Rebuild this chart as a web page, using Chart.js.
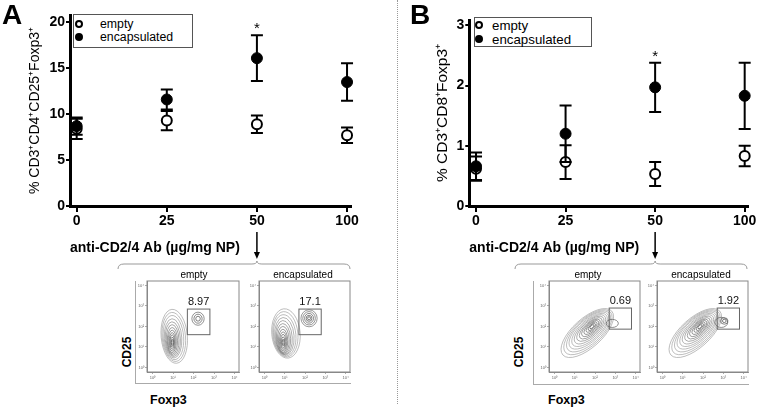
<!DOCTYPE html>
<html>
<head>
<meta charset="utf-8">
<script src="https://cdn.jsdelivr.net/npm/chart.js@4.4.1/dist/chart.umd.min.js"></script>
<style>
  body { margin: 0; background: #fff; font-family: "Liberation Sans", Arial, sans-serif; }
  #fig { position: relative; width: 760px; height: 408px; overflow: hidden; background: #fff; }
  canvas { position: absolute; }
  .t { position: absolute; white-space: nowrap; line-height: 1; color: #000; }
  .c { transform: translate(-50%, -50%); }
  .rot { transform: translate(-50%, -50%) rotate(-90deg); }
  .legend { position: absolute; border: 1px solid #555; box-sizing: border-box; background: #fff; }
  .lrow { display: flex; align-items: center; white-space: nowrap; }
  .mk { display: inline-block; box-sizing: border-box; width: 8px; height: 8px; border-radius: 50%; border: 2px solid #000; }
  #legA { left: 73px; top: 14px; width: 120px; height: 34px; padding: 2px 0 0 1px; font-size: 12.3px; }
  #legA .lrow { height: 13px; }
  #legA .mk { margin-right: 17px; }
  #legB { left: 474px; top: 17px; width: 118px; height: 30px; padding: 0; font-size: 13.3px; }
  #legB .lrow { height: 14px; }
  #legB .mk { margin-right: 9px; }
  .sep { position: absolute; left: 397px; top: 0; height: 404px; border-left: 1px dotted #999; }
  .frame { position: absolute; border-left: 1px solid #aaa; border-bottom: 1px solid #aaa; }
</style>
</head>
<body>
<div id="fig">
  <canvas id="chartA" width="380" height="272" style="left:0;top:0"></canvas>
  <canvas id="chartB" width="362" height="272" style="left:398px;top:0"></canvas>
  <div class="sep"></div>

  <div class="t" style="left:2px;top:1px;font-size:28px;font-weight:bold">A</div>
  <div class="t" style="left:410px;top:1px;font-size:28px;font-weight:bold">B</div>

  <div class="legend" id="legA"></div>
  <div class="legend" id="legB"></div>

  <div class="frame" style="left:135px;top:281px;width:215px;height:102px"></div>
  <div class="frame" style="left:533px;top:281px;width:215px;height:103px"></div>

  <canvas id="flowA1" width="104" height="106" style="left:137px;top:277px"></canvas>
  <canvas id="flowA2" width="103" height="106" style="left:249px;top:277px"></canvas>
  <canvas id="flowB1" width="103" height="106" style="left:539px;top:277px"></canvas>
  <canvas id="flowB2" width="103" height="106" style="left:647px;top:277px"></canvas>

  <div class="t c" style="left:194px;top:275px;font-size:10px">empty</div>
  <div class="t c" style="left:303px;top:275px;font-size:10px">encapsulated</div>
  <div class="t c" style="left:588px;top:275px;font-size:10px">empty</div>
  <div class="t c" style="left:701px;top:275px;font-size:10px">encapsulated</div>

  <div class="t rot" style="left:127px;top:352px;font-size:12px;font-weight:bold">CD25</div>
  <div class="t rot" style="left:519px;top:352px;font-size:12px;font-weight:bold">CD25</div>
  <div class="t" style="left:150px;top:394px;font-size:12.5px;font-weight:bold">Foxp3</div>
  <div class="t" style="left:548px;top:394px;font-size:12.5px;font-weight:bold">Foxp3</div>
</div>

<script>
// dose groups on the x axis
const doseLabels = ['0', '25', '50', '100'];
const seriesLabels = ['empty', 'encapsulated'];
const yTicksA = [0, 5, 10, 15, 20];
const yTicksB = [0, 1, 2, 3];

// panel A: % CD3+CD4+CD25+Foxp3+  (mean, sem)
const emptyA = [8.4, 9.3, 8.9, 7.7];
const emptyErrA = [1.1, 1.05, 0.95, 0.85];
const encA = [8.7, 11.6, 16.1, 13.5];
const encErrA = [0.95, 1.1, 2.5, 2.05];

// panel B: % CD3+CD8+Foxp3+
const emptyB = [0.62, 0.73, 0.53, 0.83];
const emptyErrB = [0.2, 0.28, 0.2, 0.17];
const encB = [0.66, 1.2, 1.97, 1.83];
const encErrB = [0.23, 0.47, 0.41, 0.55];

const sigIdx = [2];     // "*" groups
const flowDose = 2;     // dose shown in the flow plots

// flow plots: decades, gates (log10 units) and gate percentages
const flowDecades = [1, 10, 100, 1000, 10000];
const gateA = { x: [1.7, 2.8], y: [1.6, 2.85] };
const gateB = { x: [2.7, 3.8], y: [1.87, 2.9] };
const pctA = ['8.97', '17.1'];
const pctB = ['0.69', '1.92'];

// contour levels: [log x, log y, half-width, half-height, tilt deg]
const contA1 = [
  [1.06, 1.52, 0.64, 1.32, 5], [1.04, 1.49, 0.57, 1.2, 5], [1.02, 1.46, 0.5, 1.08, 4],
  [1.0, 1.42, 0.43, 0.96, 3], [0.99, 1.38, 0.37, 0.85, 3], [0.98, 1.34, 0.31, 0.75, 2],
  [0.97, 1.3, 0.25, 0.65, 1], [0.96, 1.27, 0.2, 0.55, 0], [0.96, 1.25, 0.15, 0.45, 0],
  [0.96, 1.24, 0.11, 0.35, 0], [0.96, 1.23, 0.07, 0.25, 0], [0.96, 1.22, 0.04, 0.15, 0],
  [2.22, 2.38, 0.3, 0.32, 0], [2.22, 2.38, 0.2, 0.22, 0], [2.22, 2.38, 0.11, 0.12, 0]
];
const contA2 = [
  [1.06, 1.66, 0.7, 1.22, 5], [1.03, 1.62, 0.62, 1.12, 5], [1.0, 1.57, 0.55, 1.02, 5],
  [0.98, 1.52, 0.48, 0.93, 4], [0.96, 1.46, 0.41, 0.84, 4], [0.94, 1.4, 0.35, 0.75, 3],
  [0.93, 1.35, 0.29, 0.66, 2], [0.92, 1.3, 0.23, 0.57, 1], [0.92, 1.27, 0.18, 0.47, 0],
  [0.92, 1.25, 0.13, 0.37, 0], [0.92, 1.23, 0.08, 0.27, 0], [0.92, 1.22, 0.04, 0.16, 0],
  [2.2, 2.4, 0.4, 0.42, 0], [2.2, 2.4, 0.31, 0.33, 0], [2.2, 2.4, 0.22, 0.24, 0],
  [2.2, 2.4, 0.14, 0.15, 0], [2.2, 2.4, 0.07, 0.08, 0]
];
const contB1 = [
  [1.62, 1.68, 1.62, 0.72, 42], [1.65, 1.72, 1.49, 0.66, 42], [1.68, 1.76, 1.36, 0.6, 42],
  [1.7, 1.8, 1.23, 0.54, 42], [1.73, 1.83, 1.1, 0.48, 42], [1.75, 1.86, 0.97, 0.42, 42],
  [1.77, 1.89, 0.84, 0.36, 42], [1.79, 1.91, 0.71, 0.3, 42], [1.8, 1.93, 0.58, 0.25, 42],
  [1.82, 1.95, 0.46, 0.2, 42], [1.83, 1.97, 0.34, 0.15, 42], [1.84, 1.98, 0.23, 0.1, 42],
  [1.85, 1.99, 0.13, 0.06, 42], [2.85, 2.15, 0.3, 0.2, 0]
];
const contB2 = [
  [1.62, 1.68, 1.62, 0.72, 42], [1.65, 1.72, 1.49, 0.66, 42], [1.68, 1.76, 1.36, 0.6, 42],
  [1.7, 1.8, 1.23, 0.54, 42], [1.73, 1.83, 1.1, 0.48, 42], [1.75, 1.86, 0.97, 0.42, 42],
  [1.77, 1.89, 0.84, 0.36, 42], [1.79, 1.91, 0.71, 0.3, 42], [1.8, 1.93, 0.58, 0.25, 42],
  [1.82, 1.95, 0.46, 0.2, 42], [1.83, 1.97, 0.34, 0.15, 42], [1.84, 1.98, 0.23, 0.1, 42],
  [1.85, 1.99, 0.13, 0.06, 42], [2.9, 2.2, 0.32, 0.25, 0],
  [3.05, 2.27, 0.18, 0.16, 0], [3.05, 2.27, 0.09, 0.08, 0]
];

const FONT = '"Liberation Sans", Arial, sans-serif';
const SUP = ['\u2070', '\u00b9', '\u00b2', '\u00b3', '\u2074'];

const errorBars = {
  id: 'errorBars',
  beforeDatasetDraw(chart, args) {
    const ds = chart.data.datasets[args.index];
    const y = chart.scales.y, ctx = chart.ctx;
    ctx.save();
    ctx.strokeStyle = '#000';
    ctx.lineWidth = 2;
    args.meta.data.forEach((pt, i) => {
      const v = ds.data[i].y, e = ds.errors[i];
      const top = y.getPixelForValue(v + e), bot = y.getPixelForValue(v - e);
      ctx.beginPath();
      ctx.moveTo(pt.x, top); ctx.lineTo(pt.x, bot);
      ctx.moveTo(pt.x - 6, top); ctx.lineTo(pt.x + 6, top);
      ctx.moveTo(pt.x - 6, bot); ctx.lineTo(pt.x + 6, bot);
      ctx.stroke();
    });
    ctx.restore();
  }
};

const annot = {
  id: 'annot',
  afterDraw(chart, args, opts) {
    const ctx = chart.ctx, x = chart.scales.x, y = chart.scales.y;
    const ds = chart.data.datasets;
    ctx.save();
    ctx.fillStyle = '#000';
    ctx.font = '15px ' + FONT;
    ctx.textAlign = 'center';
    ctx.textBaseline = 'alphabetic';
    sigIdx.forEach(i => {
      const hi = Math.max(...ds.map(d => d.data[i].y + d.errors[i]));
      ctx.fillText('*', x.getPixelForValue(i), y.getPixelForValue(hi) - 2);
    });
    // arrow from the dose shown below
    const ax = x.getPixelForValue(flowDose);
    ctx.strokeStyle = '#000';
    ctx.lineWidth = 1.5;
    ctx.beginPath(); ctx.moveTo(ax, 232); ctx.lineTo(ax, 253); ctx.stroke();
    ctx.beginPath(); ctx.moveTo(ax - 3, 252); ctx.lineTo(ax + 3, 252); ctx.lineTo(ax, 259); ctx.closePath(); ctx.fill();
    // brace over the flow plots
    const L = opts.braceL, R = opts.braceR, yb = 264;
    ctx.strokeStyle = '#999';
    ctx.lineWidth = 1;
    ctx.beginPath();
    ctx.moveTo(L, yb + 5);
    ctx.quadraticCurveTo(L, yb, L + 6, yb);
    ctx.lineTo(ax - 5, yb);
    ctx.quadraticCurveTo(ax, yb, ax, yb - 3);
    ctx.quadraticCurveTo(ax, yb, ax + 5, yb);
    ctx.lineTo(R - 6, yb);
    ctx.quadraticCurveTo(R, yb, R, yb + 5);
    ctx.stroke();
    ctx.restore();
  }
};

function mainChart(id, c) {
  const H = 272;
  return new Chart(document.getElementById(id), {
    type: 'scatter',
    data: {
      datasets: [
        { label: seriesLabels[0], data: c.empty.map((v, i) => ({ x: i, y: v })), errors: c.emptyErr, clip: false,
          pointRadius: 5, pointBackgroundColor: '#fff', pointBorderColor: '#000', pointBorderWidth: 2, order: 2 },
        { label: seriesLabels[1], data: c.enc.map((v, i) => ({ x: i, y: v })), errors: c.encErr, clip: false,
          pointRadius: 5.5, pointBackgroundColor: '#000', pointBorderColor: '#000', pointBorderWidth: 1, order: 1 }
      ]
    },
    options: {
      animation: false, responsive: false, events: [],
      layout: { padding: { top: c.top, right: c.right, left: 0, bottom: 0 } },
      plugins: { legend: { display: false }, tooltip: { enabled: false }, annot: { braceL: c.braceL, braceR: c.braceR } },
      scales: {
        x: {
          type: 'linear', min: c.xMin, max: c.xMax,
          afterBuildTicks: s => { s.ticks = doseLabels.map((_, i) => ({ value: i })); },
          afterFit: s => { s.height = H - 206; },
          ticks: { callback: v => doseLabels[v], color: '#000', padding: 1, maxRotation: 0, autoSkip: false,
                   font: { family: FONT, size: 14, weight: 'bold' } },
          grid: { drawOnChartArea: false, tickLength: 6, color: '#000', lineWidth: 2 },
          border: { color: '#000', width: 3 },
          title: { display: true, text: 'anti-CD2/4 Ab (\u00b5g/mg NP)', align: 'start', color: '#000',
                   font: { family: FONT, size: 14, weight: 'bold' }, padding: { top: 0, bottom: 15.6 } }
        },
        y: {
          min: 0, max: c.yMax,
          afterBuildTicks: s => { s.ticks = c.yTicks.map(v => ({ value: v })); },
          afterFit: s => { s.width = c.yWidth; },
          ticks: { color: '#000', padding: 1, font: { family: FONT, size: 14, weight: 'bold' } },
          grid: { drawOnChartArea: false, tickLength: 4, color: '#000', lineWidth: 2 },
          border: { color: '#000', width: 3 },
          title: { display: true, text: c.yTitle, color: '#000',
                   font: { family: FONT, size: c.yTitleSize }, padding: { top: c.yTitlePad, bottom: 0 } }
        }
      }
    },
    plugins: [errorBars, annot]
  });
}

mainChart('chartA', {
  empty: emptyA, emptyErr: emptyErrA, enc: encA, encErr: encErrA,
  yTicks: yTicksA, yMax: 20.8, top: 15, right: 29, yWidth: 70, xMin: -0.074, xMax: 3.044,
  yTitle: '% CD3\u207aCD4\u207aCD25\u207aFoxp3\u207a', yTitleSize: 14, yTitlePad: 27,
  braceL: 118, braceR: 350
});
mainChart('chartB', {
  empty: emptyB, emptyErr: emptyErrB, enc: encB, encErr: encErrB,
  yTicks: yTicksB, yMax: 3.088, top: 20, right: 12, yWidth: 71.3, xMin: -0.075, xMax: 3.037,
  yTitle: '% CD3\u207aCD8\u207aFoxp3\u207a', yTitleSize: 15.5, yTitlePad: 35,
  braceL: 117, braceR: 349
});

function buildLegend(boxId, chart) {
  document.getElementById(boxId).innerHTML = chart.data.datasets.map(d =>
    '<div class="lrow"><span class="mk" style="background:' + d.pointBackgroundColor + '"></span>' + d.label + '</div>'
  ).join('');
}
buildLegend('legA', Chart.getChart('chartA'));
buildLegend('legB', Chart.getChart('chartB'));

const flowPlot = {
  id: 'flowPlot',
  afterDraw(chart) {
    const ctx = chart.ctx, a = chart.chartArea, x = chart.scales.x, y = chart.scales.y;
    const ds = chart.data.datasets[0];
    const px = l => x.getPixelForValue(Math.pow(10, l));
    const py = l => y.getPixelForValue(Math.pow(10, l));
    const dec = px(1) - px(0);
    ctx.save();
    ctx.strokeStyle = '#888';
    ctx.lineWidth = 1;
    ctx.strokeRect(a.left, a.top, a.right - a.left, a.bottom - a.top);
    ctx.beginPath();
    ctx.rect(a.left, a.top, a.right - a.left, a.bottom - a.top);
    ctx.clip();
    ds.contours.forEach(c => {
      // smaller (inner) levels are drawn darker
      const size = Math.min(1, (c[2] + c[3]) / 1.6);
      const g = Math.round(60 + 100 * size);
      ctx.beginPath();
      ctx.ellipse(px(c[0]), py(c[1]), c[2] * dec, c[3] * dec, -c[4] * Math.PI / 180, 0, Math.PI * 2);
      ctx.strokeStyle = 'rgb(' + g + ',' + g + ',' + g + ')';
      ctx.lineWidth = 0.7;
      ctx.stroke();
    });
    const g = ds.gate;
    ctx.strokeStyle = '#666';
    ctx.lineWidth = 1;
    ctx.strokeRect(px(g.x[0]), py(g.y[1]), px(g.x[1]) - px(g.x[0]), py(g.y[0]) - py(g.y[1]));
    ctx.fillStyle = '#111';
    ctx.font = '11px ' + FONT;
    ctx.textAlign = 'center';
    ctx.textBaseline = 'bottom';
    ctx.fillText(ds.pct, (px(g.x[0]) + px(g.x[1])) / 2, py(g.y[1]) - 2);
    ctx.restore();
  }
};

function flowChart(id, contours, gate, pct) {
  const axis = (isX) => ({
    type: 'logarithmic',
    min: Math.pow(10, isX ? -0.27 : -0.22), max: Math.pow(10, 4.22),
    afterBuildTicks: s => { s.ticks = flowDecades.map(v => ({ value: v })); },
    afterFit: s => { if (isX) s.height = 11; else s.width = 10; },
    ticks: { callback: v => '10' + SUP[Math.round(Math.log10(v))], color: '#666', padding: 1,
             maxRotation: 0, autoSkip: false, font: { family: FONT, size: 4 } },
    grid: { drawOnChartArea: false, tickLength: 2, color: '#888', lineWidth: 0.7 },
    border: { color: '#888', width: 1 }
  });
  return new Chart(document.getElementById(id), {
    type: 'scatter',
    data: { datasets: [{ data: [], contours: contours, gate: gate, pct: pct }] },
    options: {
      animation: false, responsive: false, events: [],
      layout: { padding: { top: 4, right: 2, left: 0, bottom: 0 } },
      plugins: { legend: { display: false }, tooltip: { enabled: false } },
      scales: { x: axis(true), y: axis(false) }
    },
    plugins: [flowPlot]
  });
}

flowChart('flowA1', contA1, gateA, pctA[0]);
flowChart('flowA2', contA2, gateA, pctA[1]);
flowChart('flowB1', contB1, gateB, pctB[0]);
flowChart('flowB2', contB2, gateB, pctB[1]);
</script>
</body>
</html>
